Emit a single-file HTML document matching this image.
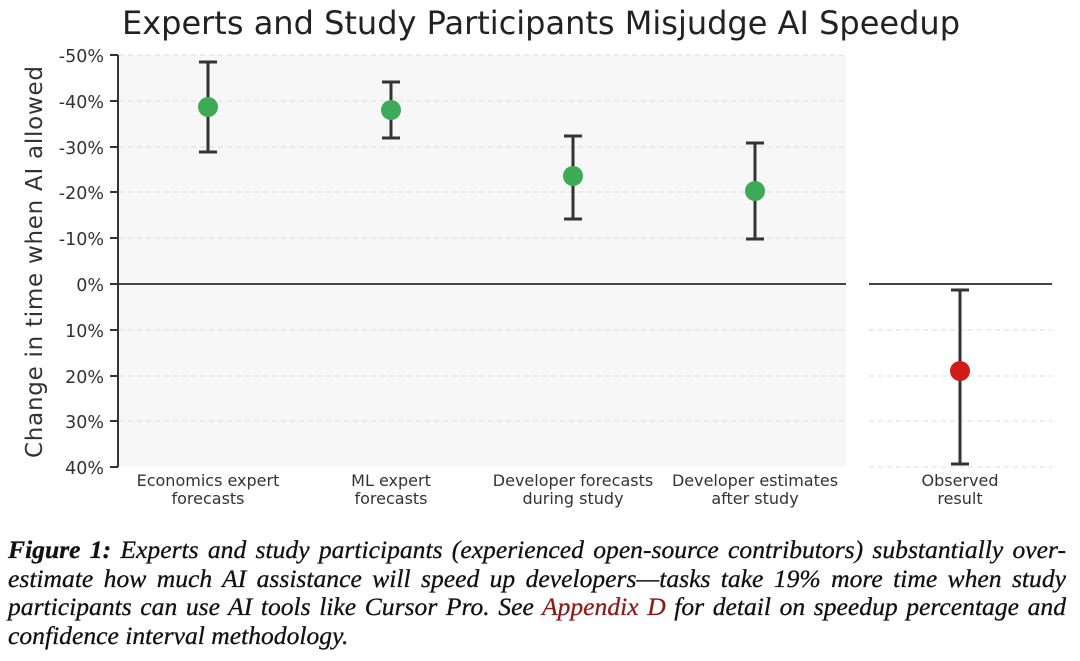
<!DOCTYPE html>
<html><head><style>
body{margin:0;width:1080px;height:661px;background:#fff;overflow:hidden;position:relative;font-family:"Liberation Sans","DejaVu Sans",sans-serif}
.cap{position:absolute;left:8px;top:536px;width:1058px;font-family:"Liberation Serif",serif;font-style:italic;font-size:25.6px;line-height:28.7px;color:#111;-webkit-text-stroke:0.3px #111}
.cap div{text-align:justify;text-align-last:justify;white-space:nowrap}
.cap div.l{text-align-last:left}
.cap b{font-weight:bold}
.cap span{color:#8b1a1a;-webkit-text-stroke:0.3px #8b1a1a}
</style></head><body>
<svg width="1080" height="530" style="position:absolute;left:0;top:0" font-family="DejaVu Sans, sans-serif">
<text x="541" y="34" text-anchor="middle" font-size="32" fill="#222" textLength="838">Experts and Study Participants Misjudge AI Speedup</text>
<rect x="119" y="55" width="727" height="412" fill="#f7f7f7"/>
<g stroke="#ddd" stroke-dasharray="5,4" stroke-width="1">
<line x1="119" x2="846" y1="55" y2="55"/><line x1="119" x2="846" y1="101" y2="101"/><line x1="119" x2="846" y1="147" y2="147"/><line x1="119" x2="846" y1="192" y2="192"/><line x1="119" x2="846" y1="238" y2="238"/><line x1="119" x2="846" y1="330" y2="330"/><line x1="119" x2="846" y1="376" y2="376"/><line x1="119" x2="846" y1="421" y2="421"/>
<line x1="869" x2="1052" y1="330" y2="330"/><line x1="869" x2="1052" y1="376" y2="376"/><line x1="869" x2="1052" y1="421" y2="421"/><line x1="869" x2="1052" y1="467" y2="467"/>
</g>
<line x1="119" x2="846" y1="284" y2="284" stroke="#444" stroke-width="2"/>
<line x1="869" x2="1052" y1="284" y2="284" stroke="#444" stroke-width="2"/>
<line x1="118" x2="118" y1="55" y2="467" stroke="#333" stroke-width="2"/>
<g font-size="17.5" fill="#333" text-anchor="end">
<text x="104" y="62">-50%</text><text x="104" y="108">-40%</text><text x="104" y="154">-30%</text><text x="104" y="199">-20%</text><text x="104" y="245">-10%</text><text x="104" y="291">0%</text><text x="104" y="337">10%</text><text x="104" y="383">20%</text><text x="104" y="428">30%</text><text x="104" y="474">40%</text>
</g>
<g stroke="#333" stroke-width="2"><line x1="110" x2="118" y1="55" y2="55"/><line x1="110" x2="118" y1="101" y2="101"/><line x1="110" x2="118" y1="147" y2="147"/><line x1="110" x2="118" y1="192" y2="192"/><line x1="110" x2="118" y1="238" y2="238"/><line x1="110" x2="118" y1="284" y2="284"/><line x1="110" x2="118" y1="330" y2="330"/><line x1="110" x2="118" y1="376" y2="376"/><line x1="110" x2="118" y1="421" y2="421"/><line x1="110" x2="118" y1="467" y2="467"/></g>
<text transform="translate(42,262) rotate(-90)" text-anchor="middle" font-size="23" fill="#333" textLength="392">Change in time when AI allowed</text>
<g stroke="#333" stroke-width="3">
<line x1="208" x2="208" y1="62" y2="152"/><line x1="199" x2="217" y1="62" y2="62"/><line x1="199" x2="217" y1="152" y2="152"/>
<line x1="391" x2="391" y1="82" y2="138"/><line x1="382" x2="400" y1="82" y2="82"/><line x1="382" x2="400" y1="138" y2="138"/>
<line x1="573" x2="573" y1="136" y2="219"/><line x1="564" x2="582" y1="136" y2="136"/><line x1="564" x2="582" y1="219" y2="219"/>
<line x1="755" x2="755" y1="143" y2="239"/><line x1="746" x2="764" y1="143" y2="143"/><line x1="746" x2="764" y1="239" y2="239"/>
<line x1="960" x2="960" y1="290" y2="464"/><line x1="951" x2="969" y1="290" y2="290"/><line x1="951" x2="969" y1="464" y2="464"/>
</g>
<circle cx="208" cy="107" r="10" fill="#3daa57"/><circle cx="391" cy="110" r="10" fill="#3daa57"/><circle cx="573" cy="176" r="10" fill="#3daa57"/><circle cx="755" cy="191" r="10" fill="#3daa57"/><circle cx="960" cy="371" r="10" fill="#d01b1b"/>
<g font-size="16" fill="#333" text-anchor="middle">
<text x="208" y="486">Economics expert</text><text x="208" y="504">forecasts</text>
<text x="391" y="486">ML expert</text><text x="391" y="504">forecasts</text>
<text x="573" y="486">Developer forecasts</text><text x="573" y="504">during study</text>
<text x="755" y="486">Developer estimates</text><text x="755" y="504">after study</text>
<text x="960" y="486">Observed</text><text x="960" y="504">result</text>
</g>
</svg>
<div class="cap">
<div><b>Figure 1:</b> Experts and study participants (experienced open-source contributors) substantially over-</div>
<div>estimate how much AI assistance will speed up developers—tasks take 19% more time when study</div>
<div>participants can use AI tools like Cursor Pro. See <span>Appendix D</span> for detail on speedup percentage and</div>
<div class="l">confidence interval methodology.</div>
</div>
</body></html>
